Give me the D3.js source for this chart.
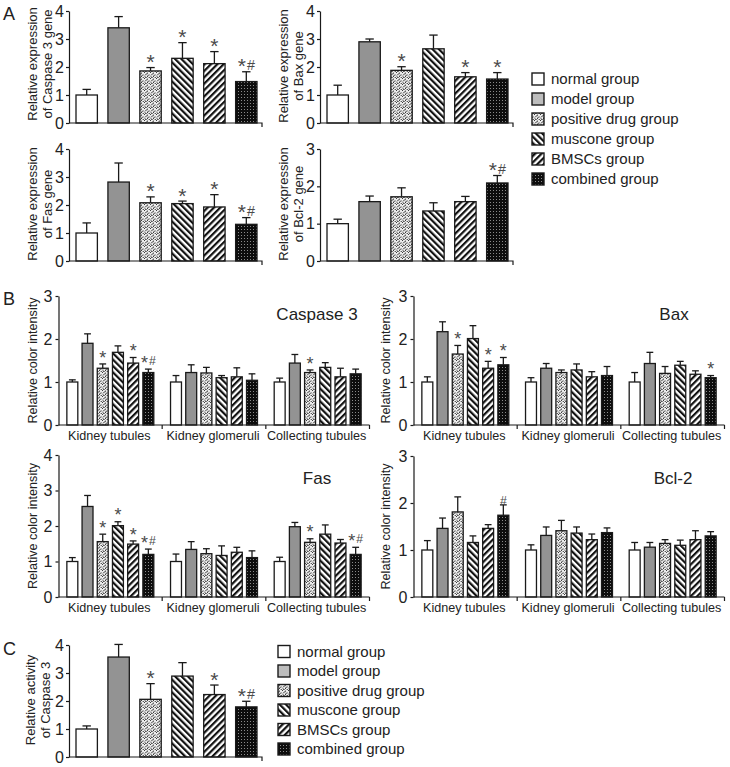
<!DOCTYPE html>
<html><head><meta charset="utf-8">
<script src="https://cdn.jsdelivr.net/npm/d3@7"></script>
<style>
body{margin:0;background:#fff;}
svg{display:block;font-family:"Liberation Sans",Arial,Helvetica,sans-serif;}
</style></head><body>
<svg id="chart" width="730" height="767"></svg>
<script>
// ---------- DATA ----------
const groupNames = ["normal group","model group","positive drug group","muscone group","BMSCs group","combined group"];
const regions = ["Kidney tubules","Kidney glomeruli","Collecting tubules"];

// Panel A: relative gene expression (mean, error, significance)
const casp3GeneMean = [1.00, 3.40, 1.86, 2.31, 2.12, 1.48];
const casp3GeneErr  = [0.20, 0.40, 0.12, 0.56, 0.43, 0.35];
const casp3GeneSig  = ["", "", "*", "*", "*", "*#"];
const baxGeneMean = [1.00, 2.90, 1.88, 2.65, 1.65, 1.57];
const baxGeneErr  = [0.35, 0.10, 0.13, 0.49, 0.15, 0.23];
const baxGeneSig  = ["", "", "*", "", "*", "*"];
const fasGeneMean = [1.00, 2.82, 2.08, 2.05, 1.93, 1.31];
const fasGeneErr  = [0.36, 0.68, 0.21, 0.09, 0.44, 0.24];
const fasGeneSig  = ["", "", "*", "*", "*", "*#"];
const bcl2GeneMean = [1.00, 1.59, 1.72, 1.34, 1.59, 2.09];
const bcl2GeneErr  = [0.12, 0.15, 0.24, 0.22, 0.14, 0.20];
const bcl2GeneSig  = ["", "", "", "", "", "*#"];
const geneTicks4 = [0, 1, 2, 3, 4];
const geneTicks3 = [0, 1, 2, 3];

// Panel B: relative color intensity, one row per region
const casp3IntMean = [[1.00,1.90,1.32,1.69,1.44,1.22],[1.00,1.22,1.21,1.10,1.12,1.04],[1.00,1.44,1.22,1.34,1.12,1.19]];
const casp3IntErr  = [[0.05,0.22,0.10,0.15,0.13,0.08],[0.15,0.18,0.13,0.05,0.21,0.15],[0.09,0.20,0.06,0.11,0.20,0.11]];
const casp3IntSig  = [["","","*","","*","*#"],["","","","","",""],["","","*","","",""]];
const baxIntMean = [[1.00,2.17,1.65,2.01,1.32,1.40],[1.00,1.32,1.22,1.28,1.12,1.15],[1.00,1.43,1.20,1.39,1.18,1.10]];
const baxIntErr  = [[0.12,0.23,0.20,0.30,0.16,0.17],[0.10,0.11,0.06,0.14,0.12,0.21],[0.22,0.26,0.16,0.09,0.08,0.05]];
const baxIntSig  = [["","","*","","*","*"],["","","","","",""],["","","","","","*"]];
const fasIntMean = [[1.00,2.55,1.56,2.01,1.49,1.20],[1.00,1.34,1.22,1.17,1.26,1.11],[1.00,1.98,1.54,1.77,1.52,1.20]];
const fasIntErr  = [[0.11,0.31,0.21,0.11,0.09,0.15],[0.21,0.22,0.14,0.27,0.14,0.19],[0.12,0.12,0.10,0.26,0.10,0.20]];
const fasIntSig  = [["","","*","*","*","*#"],["","","","","",""],["","","*","","","*#"]];
const bcl2IntMean = [[1.00,1.46,1.81,1.16,1.46,1.74],[1.00,1.31,1.41,1.36,1.22,1.37],[1.00,1.06,1.14,1.10,1.22,1.30]];
const bcl2IntErr  = [[0.20,0.22,0.32,0.14,0.08,0.22],[0.11,0.18,0.22,0.13,0.12,0.10],[0.16,0.10,0.08,0.11,0.19,0.09]];
const bcl2IntSig  = [["","","","","","#"],["","","","","",""],["","","","","",""]];

// Panel C: caspase 3 activity
const casp3ActMean = [1.00, 3.57, 2.06, 2.89, 2.23, 1.79];
const casp3ActErr  = [0.11, 0.45, 0.56, 0.48, 0.34, 0.20];
const casp3ActSig  = ["", "", "*", "", "*", "*#"];

// ---------- DRAWING ----------
const svg = d3.select("#chart");
const ink = "#1a1a1a";
const defs = svg.append("defs");

function stripes(id, angle) {
  const p = defs.append("pattern").attr("id", id).attr("patternUnits","userSpaceOnUse")
    .attr("width", 4.5).attr("height", 4.5).attr("patternTransform", `rotate(${angle})`);
  p.append("rect").attr("width", 4.5).attr("height", 4.5).attr("fill", "#fff");
  p.append("rect").attr("width", 2.2).attr("height", 4.5).attr("fill", "#111");
}
stripes("pat-back", -45);
stripes("pat-fwd", 45);
const pd = defs.append("pattern").attr("id","pat-dots").attr("patternUnits","userSpaceOnUse").attr("width",6).attr("height",6);
pd.append("rect").attr("width",6).attr("height",6).attr("fill","#ececec");
[[0,0],[3,0.6],[1.4,2],[4.6,2.4],[0.4,3.6],[3,4],[5.2,5],[1.8,5.2],[2.4,1.2],[4.2,5.6],[3.6,3],[1,4.8]].forEach(([a,b]) =>
  pd.append("rect").attr("x",a).attr("y",b).attr("width",1).attr("height",1).attr("fill","#3a3a3a"));
const pc = defs.append("pattern").attr("id","pat-comb").attr("patternUnits","userSpaceOnUse").attr("width",3).attr("height",3);
pc.append("rect").attr("width",3).attr("height",3).attr("fill","#0d0d0d");
pc.append("rect").attr("x",1).attr("y",1).attr("width",1).attr("height",1).attr("fill","#8a8a8a");

const fills = ["#ffffff", "#939393", "url(#pat-dots)", "url(#pat-back)", "url(#pat-fwd)", "url(#pat-comb)"];
const legendFills = ["#ffffff", "#bdbdbd", "url(#pat-dots)", "url(#pat-back)", "url(#pat-fwd)", "url(#pat-comb)"];

function yAxis(g, axisX, y, ticks, fs, gap) {
  const ax = g.append("g").attr("transform", `translate(${axisX},0)`)
    .call(d3.axisLeft(y).tickValues(ticks).tickFormat(d3.format("d")).tickSize(3).tickSizeOuter(0).tickPadding(gap));
  ax.select(".domain").attr("stroke", ink).attr("stroke-width", 1.2);
  ax.selectAll(".tick line").attr("stroke", ink).attr("stroke-width", 1.2);
  ax.selectAll(".tick text").attr("font-size", fs).attr("fill", "#222").attr("font-family", "Liberation Sans, Arial, sans-serif");
}

function drawBars(g, items, fs, capHalf) {
  items.forEach(d => {
    const cx = d.x + d.w / 2;
    g.append("line").attr("x1", cx).attr("x2", cx).attr("y1", d.yTop).attr("y2", d.yErr)
      .attr("stroke", ink).attr("stroke-width", 1.3);
    g.append("line").attr("x1", cx - capHalf).attr("x2", cx + capHalf).attr("y1", d.yErr).attr("y2", d.yErr)
      .attr("stroke", ink).attr("stroke-width", 1.3);
    g.append("rect").attr("x", d.x).attr("y", d.yTop).attr("width", d.w).attr("height", d.yBase - d.yTop)
      .attr("fill", d.fill).attr("stroke", ink).attr("stroke-width", 1.3);
    if (d.sig) {
      const base = d.yErr + fs * 0.62 - 11.5;
      const t = g.append("text").attr("x", cx).attr("y", base).attr("text-anchor", "middle")
        .attr("font-size", fs).attr("fill", "#4a4a4a");
      const parts = d.sig.split("");
      parts.forEach(p => {
        if (p === "#") {
          const hs = fs * 0.68;
          const dy = parts.length > 1 ? -3.5 : 0;
          t.append("tspan").attr("font-size", hs).attr("dx", parts.length > 1 ? 1 : 0).attr("dy", dy).text(p);
        } else t.append("tspan").text(p);
      });
    }
  });
}

function yTitle(g, lines, cx, cy, fs, lh) {
  lines.forEach((s, i) => {
    g.append("text").attr("transform", `translate(${cx + i * lh},${cy}) rotate(-90)`)
      .attr("text-anchor", "middle").attr("font-size", fs).attr("fill", "#222").text(s);
  });
}

function simplePanel(o) {
  const g = svg.append("g");
  const y = d3.scaleLinear().domain([0, o.max]).range([o.yZero, o.yTop]);
  const x = d3.scaleBand().domain(groupNames).range([o.axisX + 7, o.axisX + 188]).paddingInner(0.33);
  const items = groupNames.map((n, i) => ({
    x: x(n), w: x.bandwidth(), yTop: y(o.mean[i]), yBase: y(0), yErr: y(o.mean[i] + o.err[i]),
    fill: fills[i], sig: o.sig[i]
  }));
  drawBars(g, items, 21, 4.2);
  yAxis(g, o.axisX, y, o.ticks, 16, 2);
  g.append("path").attr("d", `M${o.axisX},${o.yZero}H${o.axisX + 193}v4`).attr("fill", "none")
    .attr("stroke", ink).attr("stroke-width", 1.2);
  yTitle(g, o.title, o.titleX, o.titleY, 13, 15);
}

function groupedPanel(o) {
  const g = svg.append("g");
  const y = d3.scaleLinear().domain([0, o.max]).range([o.yZero, o.yTop]);
  const x0 = d3.scaleBand().domain(regions).range([o.axisX, o.axisX + 311]);
  const x1 = d3.scaleBand().domain(groupNames).range([0, x0.bandwidth()]).paddingInner(0.28).paddingOuter(0.55);
  const items = [];
  regions.forEach((r, ri) => groupNames.forEach((n, i) => items.push({
    x: x0(r) + x1(n), w: x1.bandwidth(), yTop: y(o.mean[ri][i]), yBase: y(0),
    yErr: y(o.mean[ri][i] + o.err[ri][i]), fill: fills[i], sig: o.sig[ri][i]
  })));
  drawBars(g, items, 18, 3.4);
  yAxis(g, o.axisX, y, o.ticks, 16, 3);
  g.append("line").attr("x1", o.axisX).attr("x2", o.axisX + 311).attr("y1", o.yZero).attr("y2", o.yZero)
    .attr("stroke", ink).attr("stroke-width", 1.2);
  regions.forEach(r => {
    const bx = x0(r) + x0.bandwidth();
    g.append("line").attr("x1", bx).attr("x2", bx).attr("y1", o.yZero).attr("y2", o.yZero + 4)
      .attr("stroke", ink).attr("stroke-width", 1.2);
    g.append("text").attr("x", x0(r) + x0.bandwidth() / 2 - 1).attr("y", o.yZero + 14.5)
      .attr("text-anchor", "middle").attr("font-size", 12.6).attr("fill", "#222").text(r);
  });
  g.append("text").attr("x", o.nameX).attr("y", o.nameY).attr("text-anchor", "middle")
    .attr("font-size", 17).attr("fill", "#222").text(o.name);
  yTitle(g, ["Relative color intensity"], o.titleX, (o.yZero + o.yTop) / 2, 12.6, 0);
}

function legend(x, y0, step) {
  const g = svg.append("g");
  groupNames.forEach((n, i) => {
    const cy = y0 + i * step;
    g.append("rect").attr("x", x).attr("y", cy - 6).attr("width", 12).attr("height", 12)
      .attr("fill", legendFills[i]).attr("stroke", ink).attr("stroke-width", 1.4);
    g.append("text").attr("x", x + 19).attr("y", cy + 5.3).attr("font-size", 15).attr("fill", "#222").text(n);
  });
}

function letter(t, x, y) {
  svg.append("text").attr("x", x).attr("y", y).attr("font-size", 18).attr("fill", "#222").text(t);
}

// Panel A
letter("A", 3, 20);
simplePanel({axisX: 69, yZero: 123, yTop: 11, max: 4, ticks: geneTicks4, mean: casp3GeneMean, err: casp3GeneErr, sig: casp3GeneSig,
  title: ["Relative expression", "of Caspase 3 gene"], titleX: 36.5, titleY: 64});
simplePanel({axisX: 320, yZero: 123, yTop: 11, max: 4, ticks: geneTicks4, mean: baxGeneMean, err: baxGeneErr, sig: baxGeneSig,
  title: ["Relative expression", "of Bax gene"], titleX: 287.5, titleY: 66});
simplePanel({axisX: 69, yZero: 261, yTop: 149, max: 4, ticks: geneTicks4, mean: fasGeneMean, err: fasGeneErr, sig: fasGeneSig,
  title: ["Relative expression", "of Fas gene"], titleX: 36.5, titleY: 204});
simplePanel({axisX: 320, yZero: 261, yTop: 149, max: 3, ticks: geneTicks3, mean: bcl2GeneMean, err: bcl2GeneErr, sig: bcl2GeneSig,
  title: ["Relative expression", "of Bcl-2 gene"], titleX: 287.5, titleY: 204});
legend(532, 79, 20);

// Panel B
letter("B", 3, 305);
groupedPanel({axisX: 58.5, yZero: 425, yTop: 296, max: 3, ticks: geneTicks3, mean: casp3IntMean, err: casp3IntErr, sig: casp3IntSig,
  name: "Caspase 3", nameX: 317, nameY: 320, titleX: 36.5});
groupedPanel({axisX: 413.5, yZero: 425, yTop: 296, max: 3, ticks: geneTicks3, mean: baxIntMean, err: baxIntErr, sig: baxIntSig,
  name: "Bax", nameX: 674, nameY: 320, titleX: 389.5});
groupedPanel({axisX: 58.5, yZero: 597, yTop: 455, max: 4, ticks: geneTicks4, mean: fasIntMean, err: fasIntErr, sig: fasIntSig,
  name: "Fas", nameX: 317, nameY: 484, titleX: 36.5});
groupedPanel({axisX: 413.5, yZero: 597, yTop: 456, max: 3, ticks: geneTicks3, mean: bcl2IntMean, err: bcl2IntErr, sig: bcl2IntSig,
  name: "Bcl-2", nameX: 673, nameY: 484, titleX: 389.5});

// Panel C
letter("C", 3, 655);
simplePanel({axisX: 69, yZero: 757, yTop: 645, max: 4, ticks: geneTicks4, mean: casp3ActMean, err: casp3ActErr, sig: casp3ActSig,
  title: ["Relative activity", "of Caspase 3"], titleX: 35, titleY: 700});
legend(278, 651.5, 19.5);
</script>
</body></html>
